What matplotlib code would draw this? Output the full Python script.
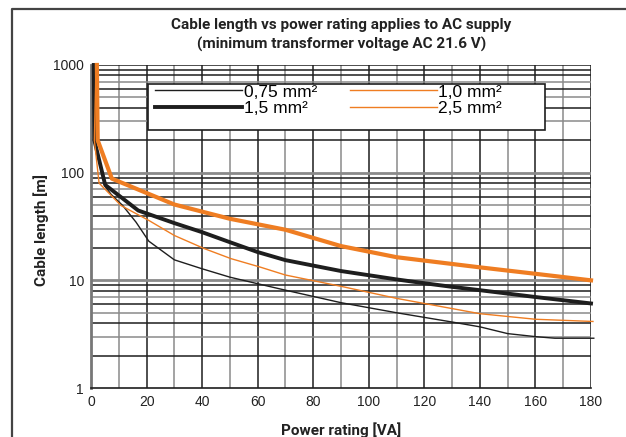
import matplotlib
matplotlib.use("Agg")
import matplotlib.pyplot as plt
from matplotlib.lines import Line2D
from matplotlib.patches import Rectangle

# cable cross sections
labels = ["0,75 mm²", "1,5 mm²", "1,0 mm²", "2,5 mm²"]

x_075 = [1.0, 1.3, 5.0, 7.2, 11.4, 16.2, 20.8, 30, 40, 50, 60, 70, 90, 110, 130, 140, 150, 160, 167, 181]
y_075 = [1000, 200, 75, 63, 49.5, 34.7, 23.1, 15.5, 12.8, 10.7, 9.3, 8.1, 6.2, 5.0, 4.1, 3.7, 3.2, 3.0, 2.9, 2.9]

x_15 = [1.0, 1.2, 5.1, 17, 30, 40, 50, 60, 70, 90, 110, 120, 130, 140, 160, 180]
y_15 = [1000, 200, 77, 44.5, 34, 28, 22.6, 18.3, 15.4, 12.2, 10.2, 9.4, 8.7, 8.1, 7.0, 6.1]

x_10 = [1.8, 1.2, 2.9, 10.8, 20.8, 30, 40.8, 50.4, 60.8, 70, 90, 110, 140, 160, 180.7]
y_10 = [1000, 200, 80, 49.5, 36, 26.1, 19.7, 15.9, 13.3, 11.2, 8.8, 6.8, 4.9, 4.35, 4.15]

x_25 = [2.1, 2.4, 7.5, 30, 50, 70, 90, 110, 140, 160, 180]
y_25 = [1000, 200, 88, 50.6, 37.3, 29.5, 20.8, 16.4, 13.2, 11.5, 10]

x_ticks = [0, 20, 40, 60, 80, 100, 120, 140, 160, 180]
y_ticks = [1, 10, 100, 1000]
y_tick_labels = ["1", "10", "100", "1000"]

orange = "#EF7D22"
dark = "#1e1e1e"
narrow = ["Roboto", "DejaVu Sans"]

plt.rcParams["font.family"] = ["Liberation Sans", "DejaVu Sans"]

fig = plt.figure(figsize=(6.26, 4.37), dpi=100)
ax = fig.add_axes([0.1454, 0.1121, 0.7987, 0.7392])
ax.set_yscale("log")
ax.set_xlim(0, 180)
ax.set_ylim(1, 1000)

# hand-drawn looking grid: alternating dark and grey lines
for i, gx in enumerate(range(10, 190, 10)):
    c = dark if i % 2 == 1 else "#8a8a8a"
    ax.axvline(gx, color=c, lw=1.1, zorder=1)
for dec in [1, 10, 100]:
    for m in range(1, 10):
        v = dec * m
        if v == 1:
            continue
        if m == 1:
            ax.axhline(v, color="#8a8a8a", lw=2.0, zorder=1)
        else:
            c = dark if m % 2 == 0 or m == 9 else "#8a8a8a"
            ax.axhline(v, color=c, lw=1.1, zorder=1)
ax.axhline(1000, color=dark, lw=1.1, zorder=1)

l075, = ax.plot(x_075, y_075, color=dark, lw=1.0, clip_on=False, zorder=3)
l15, = ax.plot(x_15, y_15, color=dark, lw=2.8, clip_on=False, zorder=3)
l10, = ax.plot(x_10, y_10, color=orange, lw=1.0, clip_on=False, zorder=3)
l25, = ax.plot(x_25, y_25, color=orange, lw=3.0, clip_on=False, zorder=3)

for s in ["top", "right"]:
    ax.spines[s].set_visible(False)
ax.spines["left"].set_color("#777777")
ax.spines["left"].set_linewidth(2.0)
ax.spines["bottom"].set_color(dark)
ax.spines["bottom"].set_linewidth(1.2)

ax.set_xticks(x_ticks)
ax.set_yticks(y_ticks)
ax.set_yticklabels(y_tick_labels)
ax.minorticks_off()
ax.tick_params(length=0, labelsize=10, pad=5, colors="#222222")

# legend box
ax.add_patch(Rectangle((0.114, 0.80), 0.794, 0.141, transform=ax.transAxes,
                       facecolor="white", edgecolor=dark, lw=1.2, zorder=4))
leg = ax.legend([l075, l15, l10, l25], labels, ncol=2, frameon=False,
                loc="upper left", bbox_to_anchor=(0.128, 0.94),
                borderpad=0, borderaxespad=0, handlelength=5.0,
                handletextpad=0.1, columnspacing=1.9, labelspacing=0.1,
                prop={"size": 12.5})
leg.set_zorder(5)
leg.get_lines()[3].set_linewidth(1.0)

fig.text(0.545, 0.943, "Cable length vs power rating applies to AC supply",
         ha="center", va="center", fontsize=11, fontweight="bold",
         family=narrow, color="#222222")
fig.text(0.545, 0.899, "(minimum transformer voltage AC 21.6 V)",
         ha="center", va="center", fontsize=11, fontweight="bold",
         family=narrow, color="#222222")
fig.text(0.545, 0.016, "Power rating [VA]", ha="center", va="center",
         fontsize=11, fontweight="bold", family=narrow, color="#222222")
fig.text(0.065, 0.474, "Cable length [m]", ha="center", va="center",
         rotation=90, fontsize=11, fontweight="bold", family=narrow,
         color="#222222")

# outer frame of the figure
fig.add_artist(Line2D([11.5 / 626, 11.5 / 626, 1.0], [0, 1 - 9 / 437, 1 - 9 / 437],
                      transform=fig.transFigure, color="#444444", lw=1.6))

fig.savefig("out.png", dpi=100)
